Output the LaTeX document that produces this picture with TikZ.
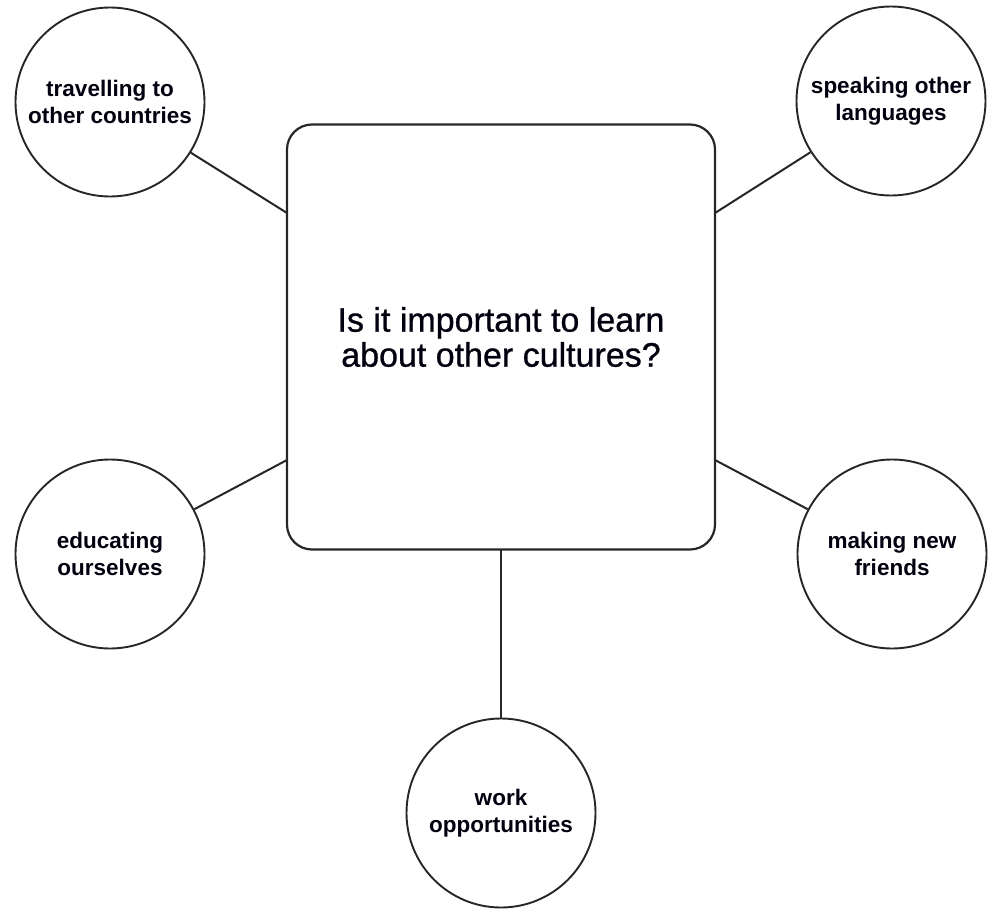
\documentclass[tikz,border=0pt]{standalone}
\usepackage{fontspec}
\setmainfont{Liberation Sans}
\newfontfamily\qfont[FakeBold=0.8]{Liberation Sans}
\begin{document}
\begin{tikzpicture}[x=1pt,y=-1pt,
  line/.style={draw=black!85, line width=2pt},
  bubble/.style={circle, draw=black!85, line width=1.9pt, minimum size=189pt, inner sep=0pt,
     align=center, text=black!80!blue!30!black, font=\fontsize{22.5}{27}\selectfont\bfseries},
  centerbox/.style={rectangle, rounded corners=25pt, draw=black!85, line width=2.2pt,
     minimum width=428pt, minimum height=425pt, inner sep=0pt, align=center,
     text=black!80!blue!30!black, font=\qfont\fontsize{34}{35}\selectfont}]
\useasboundingbox (0,0) rectangle (993,910);
\node[centerbox] (q) at (501,337) {Is it important to learn\\about other cultures?};
\node[bubble] (tl) at (110,102) {travelling to\\other countries};
\node[bubble] (tr) at (891,101) {speaking other\\languages};
\node[bubble] (lm) at (110,554) {educating\\ourselves};
\node[bubble] (rm) at (892,554) {making new\\friends};
\node[bubble] (bo) at (501,813) {work\\opportunities};
\coordinate (qtl) at (287,213);
\coordinate (qtr) at (715,213);
\coordinate (qlm) at (287,460);
\coordinate (qrm) at (715,460);
\coordinate (qbo) at (501,549);
\draw[line] (tl) -- (qtl);
\draw[line] (tr) -- (qtr);
\draw[line] (lm) -- (qlm);
\draw[line] (rm) -- (qrm);
\draw[line] (qbo) -- (bo);
\end{tikzpicture}
\end{document}
